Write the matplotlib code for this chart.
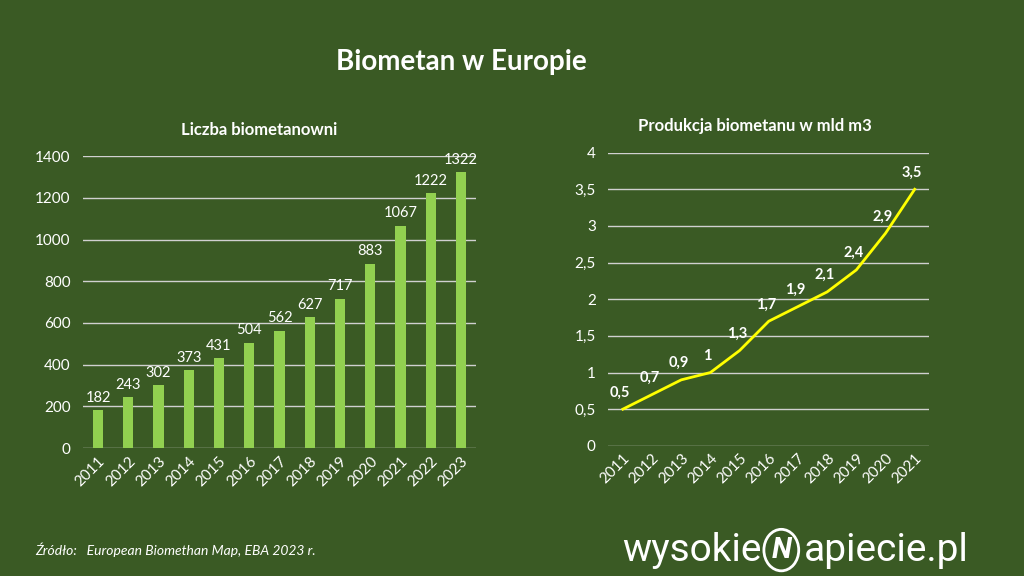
from matplotlib import pyplot as plt
from matplotlib.patches import Ellipse

plt.rcParams["font.family"] = ["Lato", "DejaVu Sans"]

# data
plant_years = [str(y) for y in range(2011, 2024)]
plant_counts = [182, 243, 302, 373, 431, 504, 562, 627, 717, 883, 1067, 1222, 1322]

prod_years = [str(y) for y in range(2011, 2022)]
prod_values = [0.5, 0.7, 0.9, 1.0, 1.3, 1.7, 1.9, 2.1, 2.4, 2.9, 3.5]

plant_ticks = [0, 200, 400, 600, 800, 1000, 1200, 1400]
prod_ticks = [0, 0.5, 1, 1.5, 2, 2.5, 3, 3.5, 4]

BG = "#3a5a24"
GRID = "#d0d0d0"
LOGO = ["Roboto", "DejaVu Sans"]


def fmt_pl(v):
    return ("%g" % v).replace(".", ",")


def style_axis(axis):
    axis.set_facecolor(BG)
    for side in ["top", "right", "left", "bottom"]:
        axis.spines[side].set_visible(False)
    axis.tick_params(colors="white", labelsize=11, length=0)
    axis.tick_params(axis="y", pad=9)
    axis.tick_params(axis="x", pad=4)
    axis.grid(axis="y", color=GRID, linewidth=1)
    axis.set_axisbelow(True)
    for lbl in axis.get_xticklabels():
        lbl.set_rotation(45)
        lbl.set_ha("right")
        lbl.set_rotation_mode("anchor")


fig = plt.figure(figsize=(10.24, 5.76), dpi=100, facecolor=BG)

fig.text(0.451, 0.892, "Biometan w Europie", color="white", fontsize=20,
         fontweight="bold", ha="center", va="center")

# left: bar chart
ax1 = fig.add_axes([0.081, 0.222, 0.384, 0.507])
x1 = list(range(len(plant_years)))
ax1.bar(x1, plant_counts, width=0.34, color="#92d050", zorder=3)
for xi, v in zip(x1, plant_counts):
    ax1.annotate(str(v), (xi, v), xytext=(0, 4), textcoords="offset points",
                 ha="center", va="bottom", color="white", fontsize=10.5,
                 annotation_clip=False)
ax1.set_ylim(0, 1400)
ax1.set_xlim(-0.5, 12.5)
ax1.set_yticks(plant_ticks)
ax1.set_xticks(x1)
ax1.set_xticklabels(plant_years)
style_axis(ax1)
fig.text(0.2534, 0.774, "Liczba biometanowni", color="white", fontsize=12,
         fontweight="bold", ha="center", va="center")

# right: line chart
ax2 = fig.add_axes([0.594, 0.226, 0.3135, 0.509])
x2 = list(range(len(prod_years)))
ax2.plot(x2, prod_values, color="#ffff00", linewidth=2, zorder=3)
for xi, v in zip(x2, prod_values):
    ax2.annotate(fmt_pl(v), (xi, v), xytext=(-2, 7), textcoords="offset points",
                 ha="center", va="bottom", color="white", fontsize=10.5,
                 fontweight="bold", annotation_clip=False)
ax2.set_ylim(0, 4)
ax2.set_xlim(-0.5, 10.5)
ax2.set_yticks(prod_ticks)
ax2.set_yticklabels([fmt_pl(t) for t in prod_ticks])
ax2.set_xticks(x2)
ax2.set_xticklabels(prod_years)
style_axis(ax2)
fig.text(0.737, 0.781, "Produkcja biometanu w mld m3", color="white", fontsize=12,
         fontweight="bold", ha="center", va="center")

# footer
fig.text(0.034, 0.045, "Źródło:   European Biomethan Map, EBA 2023 r.",
         color="white", fontsize=10, style="italic", va="center")

fig.text(0.608, 0.045, "wysokie", color="white", fontsize=28,
         va="center", ha="left", family=LOGO)
fig.text(0.946, 0.045, "apiecie.pl", color="white", fontsize=28,
         va="center", ha="right", family=LOGO)
fig.patches.append(Ellipse((0.763, 0.045), 0.034, 0.072, transform=fig.transFigure,
                           fill=False, edgecolor="white", linewidth=2))
fig.text(0.763, 0.045, "N", color="white", fontsize=21, fontweight="bold",
         style="italic", va="center", ha="center", family=LOGO)

fig.savefig("out.png", dpi=100, facecolor=BG)
